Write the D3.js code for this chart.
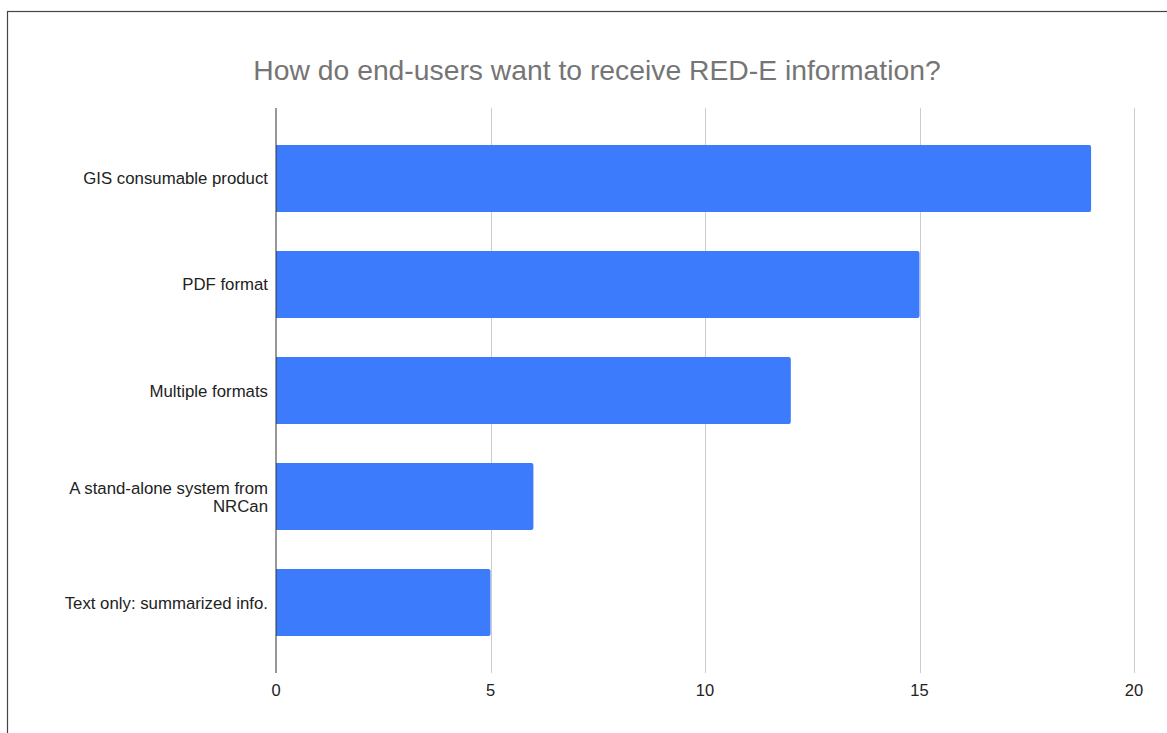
<!DOCTYPE html>
<html>
<head>
<meta charset="utf-8">
<script src="https://cdn.jsdelivr.net/npm/d3@7"></script>
<style>
  body { margin: 0; background: #fff; }
  svg { display: block; font-family: "Liberation Sans", Arial, sans-serif; }
</style>
</head>
<body>
<div id="chart"></div>
<script>
const categories = [
  "GIS consumable product",
  "PDF format",
  "Multiple formats",
  "A stand-alone system from NRCan",
  "Text only: summarized info."
]
const values = [19, 15, 12, 6, 5]
const tickValues = [0, 5, 10, 15, 20]
const title = "How do end-users want to receive RED-E information?"

const w = 1167
const h = 733
const plotL = 276, plotR = 1134, plotT = 108, plotB = 673

var svg = d3.select("#chart")
  .append('svg')
  .attr('width', w)
  .attr('height', h)

// frame
svg.append('rect')
  .attr('x', 7.5)
  .attr('y', 11.5)
  .attr('width', w)
  .attr('height', h)
  .attr('fill', 'none')
  .attr('stroke', '#444')
  .attr('stroke-width', 1.2)

var x = d3.scaleLinear().domain([0, 20]).range([plotL, plotR])
var y = d3.scaleBand()
  .domain(categories)
  .range([plotT, plotB])
  .paddingInner(0.37)
  .paddingOuter(0.35)

// title
svg.append('text')
  .attr('x', 597)
  .attr('y', 80)
  .attr('text-anchor', 'middle')
  .attr('font-size', 28.3)
  .attr('fill', '#757575')
  .text(title)

// grid
svg.append('g')
  .selectAll('line')
  .data(tickValues.slice(1))
  .enter()
  .append('line')
  .attr('x1', d => Math.round(x(d)) + 0.5)
  .attr('x2', d => Math.round(x(d)) + 0.5)
  .attr('y1', plotT)
  .attr('y2', plotB)
  .attr('stroke', '#cccccc')

// bars
svg.append('g')
  .selectAll('path')
  .data(categories)
  .enter()
  .append('path')
  .attr('fill', '#3d7bfd')
  .attr('d', function(d, i){
    var x0 = x(0), x1 = x(values[i]), y0 = y(d), bh = y.bandwidth(), r = 2
    return `M${x0},${y0}H${x1 - r}Q${x1},${y0} ${x1},${y0 + r}V${y0 + bh - r}Q${x1},${y0 + bh} ${x1 - r},${y0 + bh}H${x0}Z`
  })

// x tick labels
svg.append('g')
  .selectAll('text')
  .data(tickValues)
  .enter()
  .append('text')
  .attr('x', d => x(d))
  .attr('y', 696)
  .attr('text-anchor', 'middle')
  .attr('font-size', 16.5)
  .attr('fill', '#222')
  .text(d => d)

// category labels, wrapped to two lines when long
var labels = svg.append('g')
  .selectAll('text')
  .data(categories)
  .enter()
  .append('text')
  .attr('text-anchor', 'end')
  .attr('font-size', 16.8)
  .attr('fill', '#222')

labels.each(function(d){
  var t = d3.select(this)
  var cy = y(d) + y.bandwidth() / 2
  var lines = d.length > 30 ? ["A stand-alone system from", "NRCan"] : [d]
  var lh = 18
  lines.forEach(function(s, k){
    t.append('tspan')
      .attr('x', 268)
      .attr('y', cy + 6 + (k - (lines.length - 1) / 2) * lh)
      .text(s)
  })
})

// baseline
svg.append('line')
  .attr('x1', x(0))
  .attr('x2', x(0))
  .attr('y1', plotT)
  .attr('y2', plotB)
  .attr('stroke', '#333')
</script>
</body>
</html>
